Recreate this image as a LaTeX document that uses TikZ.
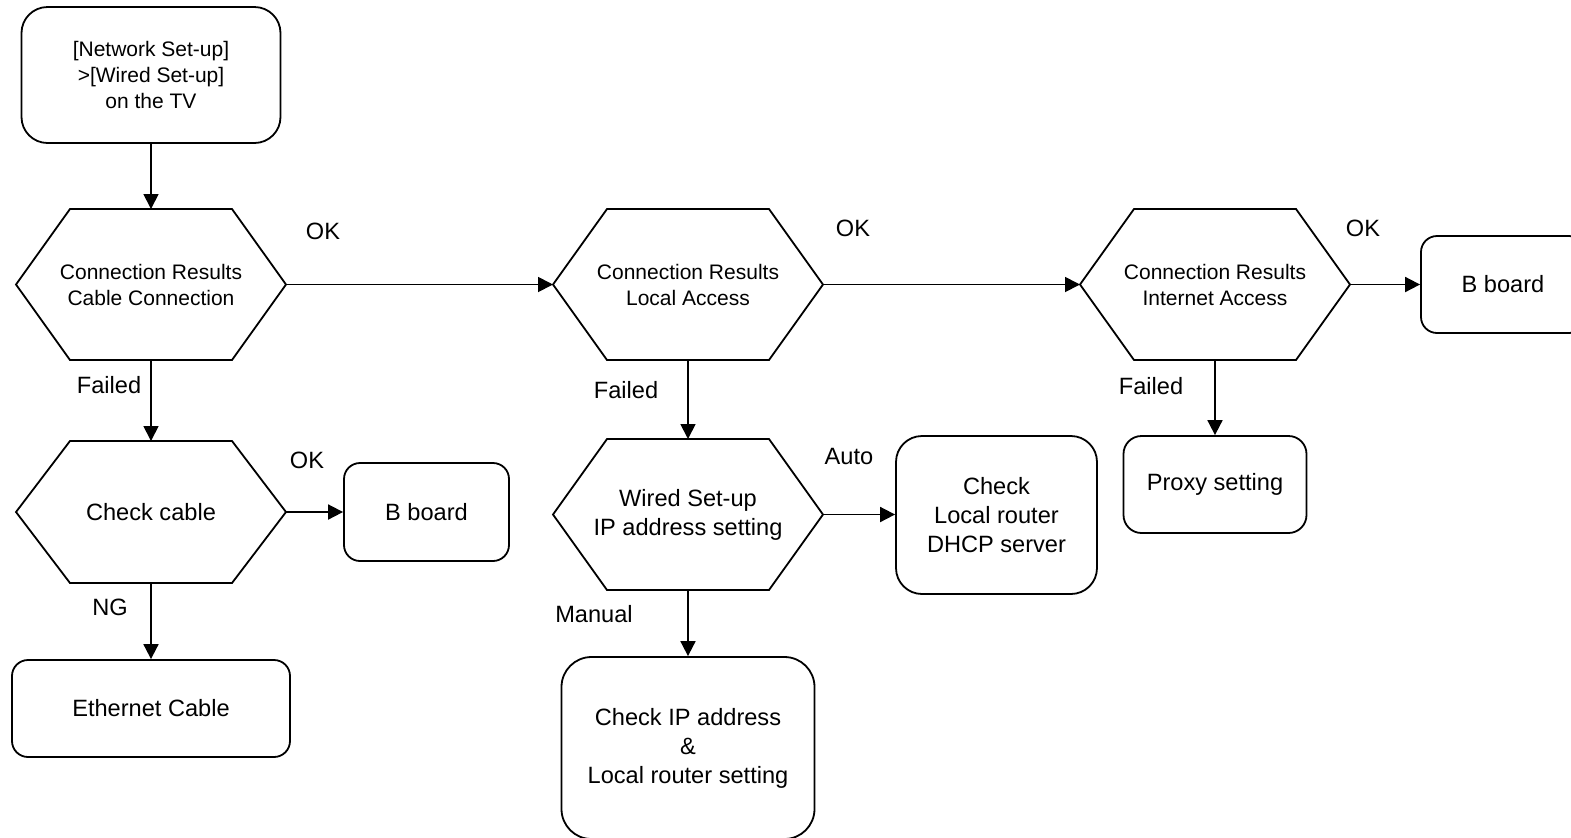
\documentclass[tikz,border=0pt]{standalone}
\usepackage{fontspec}
\setmainfont{Liberation Sans}
\usetikzlibrary{arrows.meta,positioning}
\newcommand{\smalltxt}{\fontsize{10.5}{13}\selectfont}
\newcommand{\bigtxt}{\fontsize{11.8}{14.5}\selectfont}
\tikzset{
  box/.style={draw,line width=0.9pt,rounded corners=8pt,align=center,inner sep=0pt,font=\bigtxt},
  bigbox/.style={box,rounded corners=13pt},
  hexa/.style={minimum width=135pt,minimum height=75.5pt,inner sep=0pt,outer sep=0pt,
    align=center,font=\smalltxt},
  hexline/.style={line width=0.9pt,line join=miter},
  flow/.style={-{Triangle[length=7.5pt,width=7.5pt]},line width=0.9pt},
  tag/.style={font=\bigtxt,inner sep=0pt}
}

\begin{document}
\begin{tikzpicture}[x=0.5pt,y=-0.5pt]
  \useasboundingbox (0,0) rectangle (1571,837);
  \node[bigbox,font=\smalltxt,minimum width=129.5pt,minimum height=68pt] (menu) at (151,75) {[Network Set-up]\\>[Wired Set-up]\\on the TV};
  \node[hexa] (cableres) at (151,284.5) {Connection Results\\Cable Connection};
  \node[hexa] (localres) at (688,284.5) {Connection Results\\Local Access};
  \node[hexa] (netres) at (1215,284.5) {Connection Results\\Internet Access};
  \node[box,minimum width=82pt,minimum height=48.5pt] (bboardA) at (1503,284.5) {B board};
  \node[hexa,font=\bigtxt,minimum height=71pt] (cablechk) at (151,512) {Check cable};
  \node[box,minimum width=82.5pt,minimum height=49pt] (bboardB) at (426.5,512) {B board};
  \node[box,minimum width=139pt,minimum height=48.5pt] (ethernet) at (151,708.5) {Ethernet Cable};
  \node[hexa,font=\bigtxt] (ipset) at (688,514.5) {Wired Set-up\\IP address setting};
  \node[bigbox,minimum width=100.5pt,minimum height=79pt] (dhcp) at (996.5,515) {Check\\Local router\\DHCP server};
  \node[bigbox,rounded corners=15pt,minimum width=126.5pt,minimum height=91pt] (checkip) at (688,748) {Check IP address\\\&\\Local router setting};
  \node[box,rounded corners=9pt,minimum width=91.5pt,minimum height=48.5pt] (proxy) at (1215,484.5) {Proxy setting};

  % hexagon outlines
  \foreach \h in {cableres,localres,netres,cablechk,ipset}
    \draw[hexline] ([xshift=27pt]\h.north west) -- ([xshift=-27pt]\h.north east) -- (\h.east)
      -- ([xshift=-27pt]\h.south east) -- ([xshift=27pt]\h.south west) -- (\h.west) -- cycle;

  \node[tag] (okA) at (323,231) {OK};
  \node[tag] (okB) at (853,228) {OK};
  \node[tag] (okC) at (1363,228) {OK};
  \node[tag] (okD) at (307,460) {OK};
  \node[tag] (failA) at (109,385) {Failed};
  \node[tag] (failB) at (626,390) {Failed};
  \node[tag] (failC) at (1151,386) {Failed};
  \node[tag] (ng) at (110,607) {NG};
  \node[tag] (auto) at (849,456) {Auto};
  \node[tag] (manual) at (594,614) {Manual};

  \draw[flow] (menu) -- (cableres);
  \draw[flow] (cableres) -- (localres);
  \draw[flow] (localres) -- (netres);
  \draw[flow] (netres) -- (bboardA);
  \draw[flow] (cableres) -- (cablechk);
  \draw[flow] (cablechk) -- (bboardB);
  \draw[flow] (cablechk) -- (ethernet);
  \draw[flow] (localres) -- (ipset);
  \draw[flow] (ipset.east) -- (ipset.east -| dhcp.west);
  \draw[flow] (ipset) -- (checkip);
  \draw[flow] (netres) -- (proxy);
\end{tikzpicture}
\end{document}
